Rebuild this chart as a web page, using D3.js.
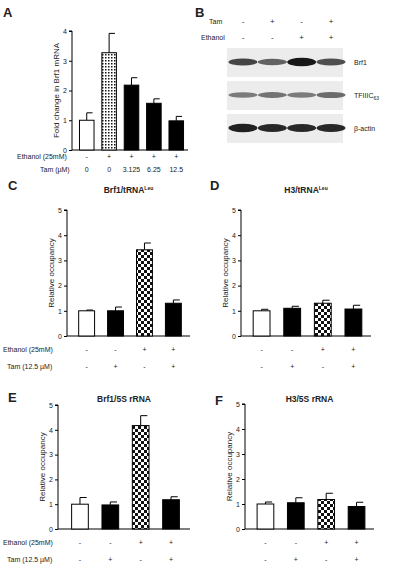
<!DOCTYPE html>
<html><head><meta charset="utf-8">
<script src="https://cdn.jsdelivr.net/npm/d3@7"></script>
<style>body{margin:0;background:#fff}text{font-family:Arial,"Liberation Sans",sans-serif;fill:#222}</style>
</head><body><svg id="c" width="400" height="586"></svg>
<script>
// Data
const aValues=[1.0,3.27,2.18,1.57,0.98], aErr=[0.25,0.65,0.25,0.15,0.15];
const aFill=["white","dots","black","black","black"];
const aEthanol=["-","+","+","+","+"], aTam=["0","0","3.125","6.25","12.5"];
const cValues=[1.0,1.0,3.42,1.3], cErr=[0.03,0.15,0.27,0.13];
const dValues=[1.0,1.1,1.3,1.07], dErr=[0.06,0.08,0.12,0.15];
const eValues=[1.0,0.97,4.17,1.18], eErr=[0.27,0.12,0.4,0.12];
const fValues=[1.0,1.05,1.18,0.9], fErr=[0.08,0.2,0.25,0.17];
const occFill=["white","black","check","black"];
const occEthanol=["-","-","+","+"], occTam=["-","+","-","+"];
const blotTam=["-","+","-","+"], blotEthanol=["-","-","+","+"];
const blotRows=["Brf1","TFIIIC","β-actin"];
const blotIntensity=[[0.75,0.6,1.0,0.7],[0.45,0.5,0.45,0.55],[0.95,0.9,0.9,0.9]];

const svg=d3.select("#c");
const defs=svg.append("defs");
const pd=defs.append("pattern").attr("id","dots").attr("width",3).attr("height",3).attr("patternUnits","userSpaceOnUse");
pd.append("rect").attr("width",3).attr("height",3).attr("fill","white");
pd.append("rect").attr("width",1.5).attr("height",1.5).attr("fill","#111");
const pc=defs.append("pattern").attr("id","check").attr("width",6).attr("height",6).attr("patternUnits","userSpaceOnUse");
pc.append("rect").attr("width",6).attr("height",6).attr("fill","white");
pc.append("rect").attr("width",3).attr("height",3).attr("fill","#111");
pc.append("rect").attr("x",3).attr("y",3).attr("width",3).attr("height",3).attr("fill","#111");
const fillOf=f=>f==="dots"?"url(#dots)":f==="check"?"url(#check)":f;

function panel(o){
  const g=svg.append("g");
  const y=d3.scaleLinear().domain([0,o.ymax]).range([o.y0,o.ytop]);
  const x=d3.scaleBand().domain(d3.range(o.vals.length)).range([o.x0+3,o.x1]).paddingInner(o.pin).paddingOuter(o.pout);
  const ay=g.append("g").attr("transform",`translate(${o.x0},0)`).call(d3.axisLeft(y).ticks(o.ymax).tickSize(3).tickPadding(2));
  ay.selectAll("text").style("font-size","7px");
  ay.select(".domain").attr("d",`M-3,${o.ytop}H0V${o.y0}`);
  g.append("line").attr("x1",o.x0).attr("x2",o.x1).attr("y1",o.y0).attr("y2",o.y0).attr("stroke","#000");
  o.vals.forEach((v,i)=>{
    const bx=x(i),bw=x.bandwidth(),cx=bx+bw/2;
    g.append("line").attr("x1",cx).attr("x2",cx).attr("y1",y(v)).attr("y2",y(v+o.err[i])).attr("stroke","#000");
    g.append("line").attr("x1",cx).attr("x2",cx+bw*0.4).attr("y1",y(v+o.err[i])).attr("y2",y(v+o.err[i])).attr("stroke","#000");
    g.append("rect").attr("x",bx).attr("y",y(v)).attr("width",bw).attr("height",o.y0-y(v)).attr("fill",fillOf(o.fill[i])).attr("stroke","#000");
  });
  g.append("text").attr("x",(o.x0+o.x1)/2).attr("y",o.titleY).attr("text-anchor","middle").style("font-size","8.5px").style("font-weight","bold").html(o.title);
  g.append("text").attr("x",o.letterX).attr("y",o.letterY).style("font-size","13px").style("font-weight","bold").text(o.letter);
  g.append("text").attr("transform",`translate(${o.x0-13},${(o.y0+o.ytop)/2}) rotate(-90)`).attr("text-anchor","middle").style("font-size","8px").text(o.ylab);
  o.rows.forEach((r,j)=>{
    if(r.label) g.append("text").attr("x",r.lx).attr("y",r.y).style("font-size","7px").text(r.label);
    r.vals.forEach((t,i)=>g.append("text").attr("x",x(i)+x.bandwidth()/2).attr("y",r.y).attr("text-anchor","middle").style("font-size","7px").text(t));
  });
}
panel({vals:aValues,err:aErr,fill:aFill,x0:72,x1:188,y0:150,ytop:31,ymax:4,pin:0.35,pout:0.2,title:"",titleY:0,letter:"A",letterX:3,letterY:17,ylab:"Fold change in Brf1 mRNA",
  rows:[{label:"Ethanol (25mM)",lx:17,y:159,vals:aEthanol},{label:"Tam (µM)",lx:40,y:172,vals:aTam}]});
panel({vals:cValues,err:cErr,fill:occFill,x0:67,x1:190,y0:336,ytop:210,ymax:5,pin:0.45,pout:0.3,title:'Brf1/tRNA<tspan dy="-3" style="font-size:5px">Leu</tspan>',titleY:193,letter:"C",letterX:8,letterY:190,ylab:"Relative occupancy",
  rows:[{label:"Ethanol (25mM)",lx:3,y:352,vals:occEthanol},{label:"Tam (12.5 µM)",lx:7,y:369,vals:occTam}]});
panel({vals:dValues,err:dErr,fill:occFill,x0:241,x1:371,y0:336,ytop:210,ymax:5,pin:0.45,pout:0.3,title:'H3/tRNA<tspan dy="-3" style="font-size:5px">Leu</tspan>',titleY:193,letter:"D",letterX:210,letterY:190,ylab:"Relative occupancy",
  rows:[{y:352,vals:occEthanol},{y:369,vals:occTam}]});
panel({vals:eValues,err:eErr,fill:occFill,x0:58,x1:190,y0:529,ytop:405,ymax:5,pin:0.45,pout:0.35,title:"Brf1/5S rRNA",titleY:402,letter:"E",letterX:8,letterY:402,ylab:"Relative occupancy",
  rows:[{label:"Ethanol (25mM)",lx:3,y:545,vals:occEthanol},{label:"Tam (12.5 µM)",lx:7,y:562,vals:occTam}]});
panel({vals:fValues,err:fErr,fill:occFill,x0:245,x1:374,y0:529,ytop:404,ymax:5,pin:0.45,pout:0.3,title:"H3/5S rRNA",titleY:402,letter:"F",letterX:215,letterY:405,ylab:"Relative occupancy",
  rows:[{y:545,vals:occEthanol},{y:562,vals:occTam}]});

// Panel B blot
const gb=svg.append("g");
gb.append("text").attr("x",195).attr("y",17).style("font-size","13px").style("font-weight","bold").text("B");
const lx=d3.scalePoint().domain(d3.range(4)).range([243,331]);
gb.append("text").attr("x",209).attr("y",24).style("font-size","7px").text("Tam");
gb.append("text").attr("x",201).attr("y",40).style("font-size","7px").text("Ethanol");
blotTam.forEach((t,i)=>gb.append("text").attr("x",lx(i)).attr("y",24).attr("text-anchor","middle").style("font-size","8px").text(t));
blotEthanol.forEach((t,i)=>gb.append("text").attr("x",lx(i)).attr("y",40).attr("text-anchor","middle").style("font-size","8px").text(t));
const boxY=[48,81,114];
blotRows.forEach((r,j)=>{
  gb.append("rect").attr("x",227).attr("y",boxY[j]).attr("width",116).attr("height",29).attr("fill","#ececec");
  blotIntensity[j].forEach((v,i)=>gb.append("ellipse").attr("cx",lx(i)).attr("cy",boxY[j]+14).attr("rx",14.5).attr("ry",1.5+v*2.8)
    .attr("fill",d3.interpolateGreys(0.35+v*0.65)).attr("opacity",0.9));
  const t=gb.append("text").attr("x",354).attr("y",boxY[j]+17).style("font-size","7px").text(r);
  if(r==="TFIIIC") t.append("tspan").attr("dy",2).style("font-size","5px").text("63");
});
</script></body></html>
